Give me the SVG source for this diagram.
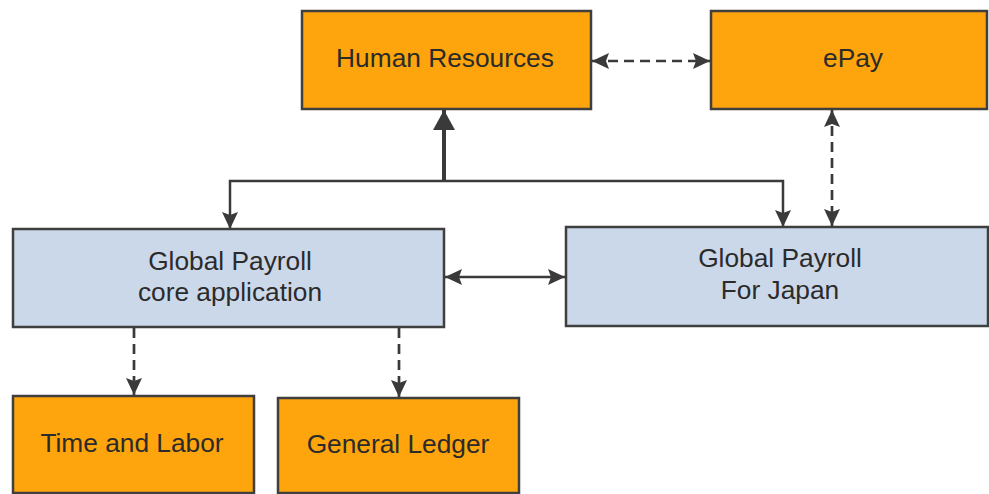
<svg xmlns="http://www.w3.org/2000/svg" width="989" height="494" viewBox="0 0 989 494">
<style>
.box{stroke:#3f3f3f;stroke-width:2.5}
.org{fill:#FEA40C}
.blu{fill:#CBD8EA}
.t{font-family:"Liberation Sans",Arial,sans-serif;font-size:26.3px;fill:#2b2b2b;text-anchor:middle}
.ln{fill:none;stroke:#3a3a3a;stroke-width:2.5}
.dash{stroke-dasharray:10 6;stroke-width:2.7}
</style>
<defs>
<marker id="ah" markerUnits="userSpaceOnUse" markerWidth="20" markerHeight="18" refX="17" refY="9" orient="auto-start-reverse">
<path d="M0,1 L17,9 L0,17 L3,9 z" fill="#3a3a3a"/>
</marker>
<marker id="ahb" markerUnits="userSpaceOnUse" markerWidth="22" markerHeight="24" refX="20" refY="11" orient="auto">
<path d="M0,0 L20,11 L0,22 z" fill="#3a3a3a"/>
</marker>
</defs>
<g id="connectors">
<path class="ln" d="M444,182 V110" style="stroke-width:4" marker-end="url(#ahb)"/>
<path class="ln" d="M230,229 V181 H783 V227" marker-end="url(#ah)" marker-start="url(#ah)"/>
<path class="ln dash" d="M592,61 H710" marker-start="url(#ah)" marker-end="url(#ah)"/>
<path class="ln dash" d="M832,110 V226" marker-start="url(#ah)" marker-end="url(#ah)"/>
<path class="ln" d="M445,277 H565" marker-start="url(#ah)" marker-end="url(#ah)"/>
<path class="ln dash" d="M134,328 V395" marker-end="url(#ah)"/>
<path class="ln dash" d="M399,328 V397" marker-end="url(#ah)"/>
</g>
<g id="hr"><rect class="box org" x="302" y="11" width="289" height="98"/><text class="t" x="445" y="67">Human Resources</text></g>
<g id="epay"><rect class="box org" x="711" y="11" width="276" height="98"/><text class="t" x="853" y="67">ePay</text></g>
<g id="core"><rect class="box blu" x="13" y="229" width="431" height="98"/><text class="t" x="230" y="270">Global Payroll</text><text class="t" x="230" y="301">core application</text></g>
<g id="japan"><rect class="box blu" x="566" y="227" width="422" height="99"/><text class="t" x="780" y="267">Global Payroll</text><text class="t" x="780" y="299">For Japan</text></g>
<g id="tl"><rect class="box org" x="13" y="396" width="241" height="97"/><text class="t" x="132" y="452">Time and Labor</text></g>
<g id="gl"><rect class="box org" x="278" y="398" width="241" height="95"/><text class="t" x="398" y="453">General Ledger</text></g>
</svg>
